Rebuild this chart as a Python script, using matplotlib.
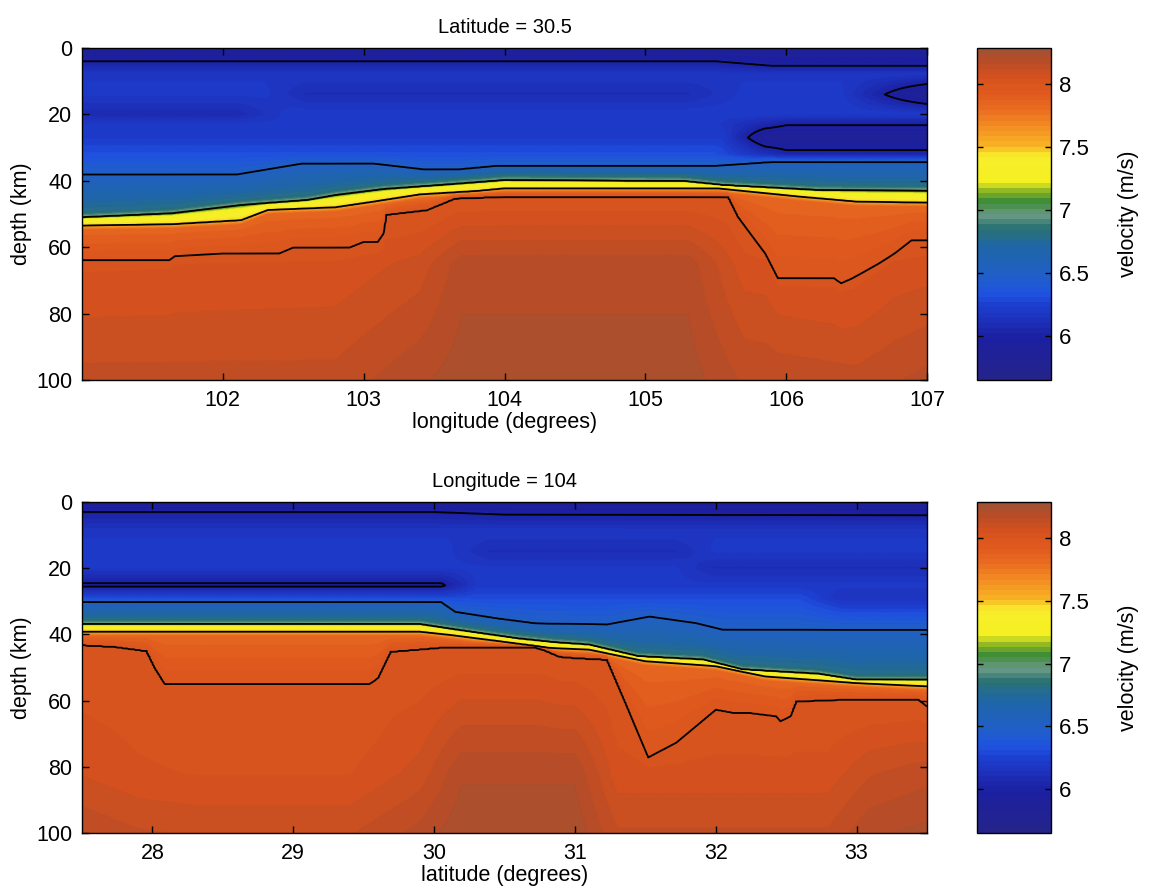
import numpy as np
import matplotlib
matplotlib.use("Agg")
import matplotlib.pyplot as plt
from matplotlib.colors import LinearSegmentedColormap

# ── Style ─────────────────────────────────────────────────────────────────────
plt.rcParams.update({
    "font.family":      ["Liberation Sans", "DejaVu Sans"],
    "font.size":        15,
    "xtick.direction":  "in",
    "ytick.direction":  "in",
    "xtick.top":        True,
    "ytick.right":      True,
    "axes.linewidth":   1.0,
})

# ── Colour scale (velocity -> colour) ─────────────────────────────────────────
CBAR_VEL = [5.65, 5.96, 6.22, 6.33, 6.49, 6.70, 6.86, 6.96, 7.07, 7.16,
            7.23, 7.44, 7.52, 7.68, 7.81, 7.94, 8.07, 8.14, 8.21, 8.29]
CBAR_COL = ["#24248a", "#1c1fa0", "#1d3ccc", "#1f52e0", "#2060c4", "#1f66a8",
            "#2a7272", "#6a9a86", "#3c8c36", "#94ba22", "#f4f020", "#f8ee2a",
            "#f8b424", "#f28c22", "#ea6c20", "#e05a1e", "#d6521e", "#c64e22",
            "#b64c28", "#a25232"]
VMIN, VMAX = 5.65, 8.29
LEVELS = [6.0, 6.5, 7.0, 7.5, 8.0]
CBAR_TICKS = [6, 6.5, 7, 7.5, 8]
CBAR_TICKLABELS = ["6", "6.5", "7", "7.5", "8"]

# ── Panel 1: latitude 30.5 section ───────────────────────────────────────────
TOP_XLIM = (101, 107)
TOP_XTICKS = [102, 103, 104, 105, 106, 107]

# contour traces (depth km) of the 6.0 / 6.5 / 7.0 / 7.5 / 8.0 interfaces
TOP_SURF_X = [101, 105.5, 105.9, 107]
TOP_SURF_Z = [4.0, 4.0, 5.4, 5.4]
TOP_MID_X = [101, 102.1, 102.56, 103.07, 103.43, 103.67, 103.95, 105.5, 105.9, 107]
TOP_MID_Z = [38.1, 38.1, 34.8, 34.8, 36.6, 36.6, 35.5, 35.5, 34.3, 34.3]
TOP_MOHO_X = [101, 101.64, 102.13, 102.6, 102.8, 103.14, 103.54, 104.0, 105.28,
              105.55, 106.23, 107]
TOP_MOHO_Z = [51.0, 49.8, 47.3, 45.8, 44.3, 42.5, 41.3, 39.8, 40.1, 41.3, 42.8, 43.0]
TOP_BASE_X = [101, 101.64, 102.13, 102.32, 102.8, 103.07, 103.4, 103.8, 104.0,
              105.52, 106.1, 106.5, 107]
TOP_BASE_Z = [53.5, 53.1, 51.9, 48.8, 48.0, 46.3, 44.1, 43.1, 42.3, 42.3, 44.8,
              46.3, 46.6]
TOP_DEEP_X = [101, 101.62, 101.66, 102.0, 102.4, 102.5, 102.9, 103.0, 103.1,
              103.14, 103.16, 103.45, 103.65, 104.0, 105.59, 105.66, 105.85,
              105.94, 106.34, 106.39, 106.47, 106.66, 106.77, 106.89, 107]
TOP_DEEP_Z = [63.9, 63.9, 62.7, 61.9, 61.9, 60.1, 60.1, 58.4, 58.4, 55.9, 50.2,
              48.8, 45.3, 44.8, 44.8, 50.9, 61.9, 69.4, 69.4, 70.9, 69.4, 64.9,
              61.9, 57.9, 57.9]

# velocities at fixed depths inside the crust / mantle
TOP_V08_X, TOP_V08 = [101, 107], [6.18, 6.18]
TOP_V14_X = [101, 102.3, 102.6, 105.3, 105.7, 106.4, 107]
TOP_V14 = [6.2, 6.2, 6.1, 6.1, 6.2, 6.2, 5.8]
TOP_V20_X, TOP_V20 = [101, 102.1, 102.5, 107], [6.08, 6.08, 6.22, 6.22]
TOP_V23_X, TOP_V23 = [101, 105.5, 106.0, 107], [6.2, 6.2, 6.01, 6.01]
TOP_V27_X, TOP_V27 = [101, 105.55, 105.85, 107], [6.22, 6.22, 5.85, 5.85]
TOP_V32_X, TOP_V32 = [101, 105.5, 106.0, 107], [6.32, 6.32, 6.05, 6.05]
TOP_VDEEP_X = [101, 102.8, 103.4, 103.7, 105.3, 105.7, 106.5, 107]
TOP_V65 = [8.04, 8.05, 8.10, 8.19, 8.19, 8.06, 8.04, 8.06]
TOP_V100 = [8.14, 8.14, 8.20, 8.23, 8.23, 8.16, 8.14, 8.18]

# ── Panel 2: longitude 104 section ───────────────────────────────────────────
BOT_XLIM = (27.5, 33.5)
BOT_XTICKS = [28, 29, 30, 31, 32, 33]

BOT_SURF_X = [27.5, 30.0, 30.5, 33.5]
BOT_SURF_Z = [3.0, 3.0, 3.8, 4.0]
BOT_MID_X = [27.5, 30.05, 30.15, 30.45, 30.72, 31.23, 31.53, 31.86, 32.05, 33.5]
BOT_MID_Z = [30.2, 30.2, 33.2, 35.2, 36.7, 37.0, 34.6, 36.6, 38.6, 38.6]
BOT_MOHO_X = [27.5, 29.9, 30.18, 30.59, 30.86, 31.1, 31.45, 31.91, 32.19, 32.73,
              33.0, 33.5]
BOT_MOHO_Z = [36.9, 36.9, 38.7, 41.2, 42.4, 43.1, 46.6, 47.6, 50.6, 51.9, 53.7, 53.7]
BOT_BASE_X = [27.5, 29.9, 30.12, 30.45, 30.82, 31.1, 31.5, 32.0, 32.35, 33.0, 33.5]
BOT_BASE_Z = [39.2, 39.2, 40.2, 42.0, 44.1, 44.6, 48.1, 49.6, 52.7, 54.7, 55.7]
BOT_DEEP_X = [27.5, 27.73, 27.96, 28.02, 28.09, 29.54, 29.6, 29.69, 29.9, 30.04,
              30.72, 30.78, 30.89, 31.0, 31.23, 31.37, 31.52, 31.72, 32.0, 32.13,
              32.24, 32.43, 32.46, 32.53, 32.57, 32.9, 33.44, 33.5]
BOT_DEEP_Z = [43.2, 43.7, 45.0, 50.2, 55.0, 55.0, 53.2, 45.2, 44.5, 44.0, 44.0,
              44.7, 46.7, 47.1, 47.6, 61.7, 77.2, 72.7, 62.7, 63.7, 63.7, 64.7,
              66.2, 64.7, 60.2, 59.7, 59.7, 61.7]

BOT_V09_X, BOT_V09 = [27.5, 33.5], [6.18, 6.18]
BOT_V15_X = [27.5, 30.1, 30.4, 31.7, 32.0, 33.5]
BOT_V15 = [6.2, 6.2, 6.1, 6.1, 6.2, 6.2]
BOT_V20_X, BOT_V20 = [27.5, 31.7, 32.0, 33.5], [6.2, 6.2, 6.1, 6.1]
BOT_V25_X, BOT_V25 = [27.5, 30.05, 30.3, 33.5], [5.97, 5.97, 6.2, 6.2]
BOT_V29_X, BOT_V29 = [27.5, 32.6, 32.9, 33.5], [6.3, 6.3, 6.15, 6.15]
BOT_VDEEP_X = [27.5, 27.9, 28.3, 29.4, 29.9, 30.2, 31.0, 31.3, 32.8, 33.1, 33.5]
BOT_V82 = [8.08, 8.05, 8.04, 8.04, 8.10, 8.20, 8.20, 8.06, 8.06, 8.12, 8.15]
BOT_V100 = [8.16, 8.13, 8.12, 8.12, 8.18, 8.24, 8.24, 8.13, 8.13, 8.20, 8.22]

V_TOP_SURFACE = 5.85


def build_field(x, z, fixed, ifaces, base_z, base_v):
    """Velocity section from interface traces and fixed-depth velocities."""
    depths, vels = [np.zeros_like(x)], [np.full_like(x, V_TOP_SURFACE)]
    for z0, xp, vp in fixed:
        depths.append(np.full_like(x, z0))
        vels.append(np.interp(x, xp, vp))
    zi = {}
    for name, xp, zp, lev in ifaces:
        zi[name] = np.interp(x, xp, zp)
        depths.append(zi[name])
        vels.append(np.full_like(x, lev))
    # shoulders around the Moho: steel blue above, mostly yellow inside,
    # orange just below
    span = zi["base"] - zi["moho"]
    extra = [(zi["moho"] - 1.5, 6.8),
             (zi["moho"] + 0.25 * span, 7.25),
             (zi["moho"] + 0.85 * span, 7.44),
             (zi["base"] + np.minimum(1.5, 0.5 * (zi["deep"] - zi["base"])), 7.85)]
    for zz, vv in extra:
        depths.append(zz)
        vels.append(np.full_like(x, vv))
    for z0, vp in zip(base_z, base_v):
        depths.append(np.maximum(np.full_like(x, z0), zi["deep"] + 3))
        vels.append(vp)
    D, V = np.array(depths), np.array(vels)
    order = np.argsort(D, axis=0, kind="stable")
    D = np.take_along_axis(D, order, 0)
    V = np.take_along_axis(V, order, 0)
    return np.column_stack([np.interp(z, D[:, j], V[:, j]) for j in range(len(x))])


cmap = LinearSegmentedColormap.from_list(
    "vel", list(zip((np.array(CBAR_VEL) - VMIN) / (VMAX - VMIN), CBAR_COL)), N=64)

z = np.linspace(0, 100, 401)

x_top = np.linspace(*TOP_XLIM, 601)
v_top = build_field(
    x_top, z,
    [(8, TOP_V08_X, TOP_V08), (14, TOP_V14_X, TOP_V14), (20, TOP_V20_X, TOP_V20),
     (23, TOP_V23_X, TOP_V23), (27, TOP_V27_X, TOP_V27), (32, TOP_V32_X, TOP_V32)],
    [("surf", TOP_SURF_X, TOP_SURF_Z, 6.0), ("mid", TOP_MID_X, TOP_MID_Z, 6.5),
     ("moho", TOP_MOHO_X, TOP_MOHO_Z, 7.0), ("base", TOP_BASE_X, TOP_BASE_Z, 7.5),
     ("deep", TOP_DEEP_X, TOP_DEEP_Z, 8.0)],
    [65, 100],
    [np.interp(x_top, TOP_VDEEP_X, TOP_V65), np.interp(x_top, TOP_VDEEP_X, TOP_V100)])

x_bot = np.linspace(*BOT_XLIM, 601)
v_bot = build_field(
    x_bot, z,
    [(9, BOT_V09_X, BOT_V09), (15, BOT_V15_X, BOT_V15), (20, BOT_V20_X, BOT_V20),
     (25.2, BOT_V25_X, BOT_V25), (29, BOT_V29_X, BOT_V29)],
    [("surf", BOT_SURF_X, BOT_SURF_Z, 6.0), ("mid", BOT_MID_X, BOT_MID_Z, 6.5),
     ("moho", BOT_MOHO_X, BOT_MOHO_Z, 7.0), ("base", BOT_BASE_X, BOT_BASE_Z, 7.5),
     ("deep", BOT_DEEP_X, BOT_DEEP_Z, 8.0)],
    [82, 100],
    [np.interp(x_bot, BOT_VDEEP_X, BOT_V82), np.interp(x_bot, BOT_VDEEP_X, BOT_V100)])

# ── Layout ────────────────────────────────────────────────────────────────────
fig = plt.figure(figsize=(11.5, 8.96), dpi=100)
ax_top = fig.add_axes([0.0713, 0.5759, 0.7348, 0.3705])
ax_bot = fig.add_axes([0.0713, 0.0703, 0.7348, 0.3694])
cax_top = fig.add_axes([0.8496, 0.5759, 0.0643, 0.3705])
cax_bot = fig.add_axes([0.8496, 0.0703, 0.0643, 0.3694])

panels = [
    (ax_top, cax_top, x_top, v_top, TOP_XLIM, TOP_XTICKS,
     "Latitude = 30.5", "longitude (degrees)"),
    (ax_bot, cax_bot, x_bot, v_bot, BOT_XLIM, BOT_XTICKS,
     "Longitude = 104", "latitude (degrees)"),
]

for ax, cax, x, v, xlim, xticks, title, xlabel in panels:
    X, Z = np.meshgrid(x, z)
    mesh = ax.pcolormesh(X, Z, v, cmap=cmap, vmin=VMIN, vmax=VMAX,
                         shading="gouraud", rasterized=True)
    ax.contour(X, Z, v, levels=LEVELS, colors="k", linewidths=1.3)
    ax.set_xlim(*xlim)
    ax.set_ylim(100, 0)
    ax.set_xticks(xticks)
    ax.set_yticks([0, 20, 40, 60, 80, 100])
    ax.tick_params(length=5, width=1, pad=7, labelsize=15.5)
    ax.set_title(title, fontsize=14.5, pad=11)
    ax.set_xlabel(xlabel, fontsize=15.5, labelpad=1)
    ax.set_ylabel("depth (km)", fontsize=15.5, labelpad=3)

    cb = fig.colorbar(mesh, cax=cax)
    cb.set_ticks(CBAR_TICKS)
    cb.set_ticklabels(CBAR_TICKLABELS)
    cb.ax.tick_params(direction="in", left=True, right=True, length=4,
                      width=1, pad=6, labelsize=16)
    cb.outline.set_linewidth(1.0)
    cb.set_label("velocity (m/s)", fontsize=15.5, labelpad=20)

fig.savefig("out.png", dpi=100)
